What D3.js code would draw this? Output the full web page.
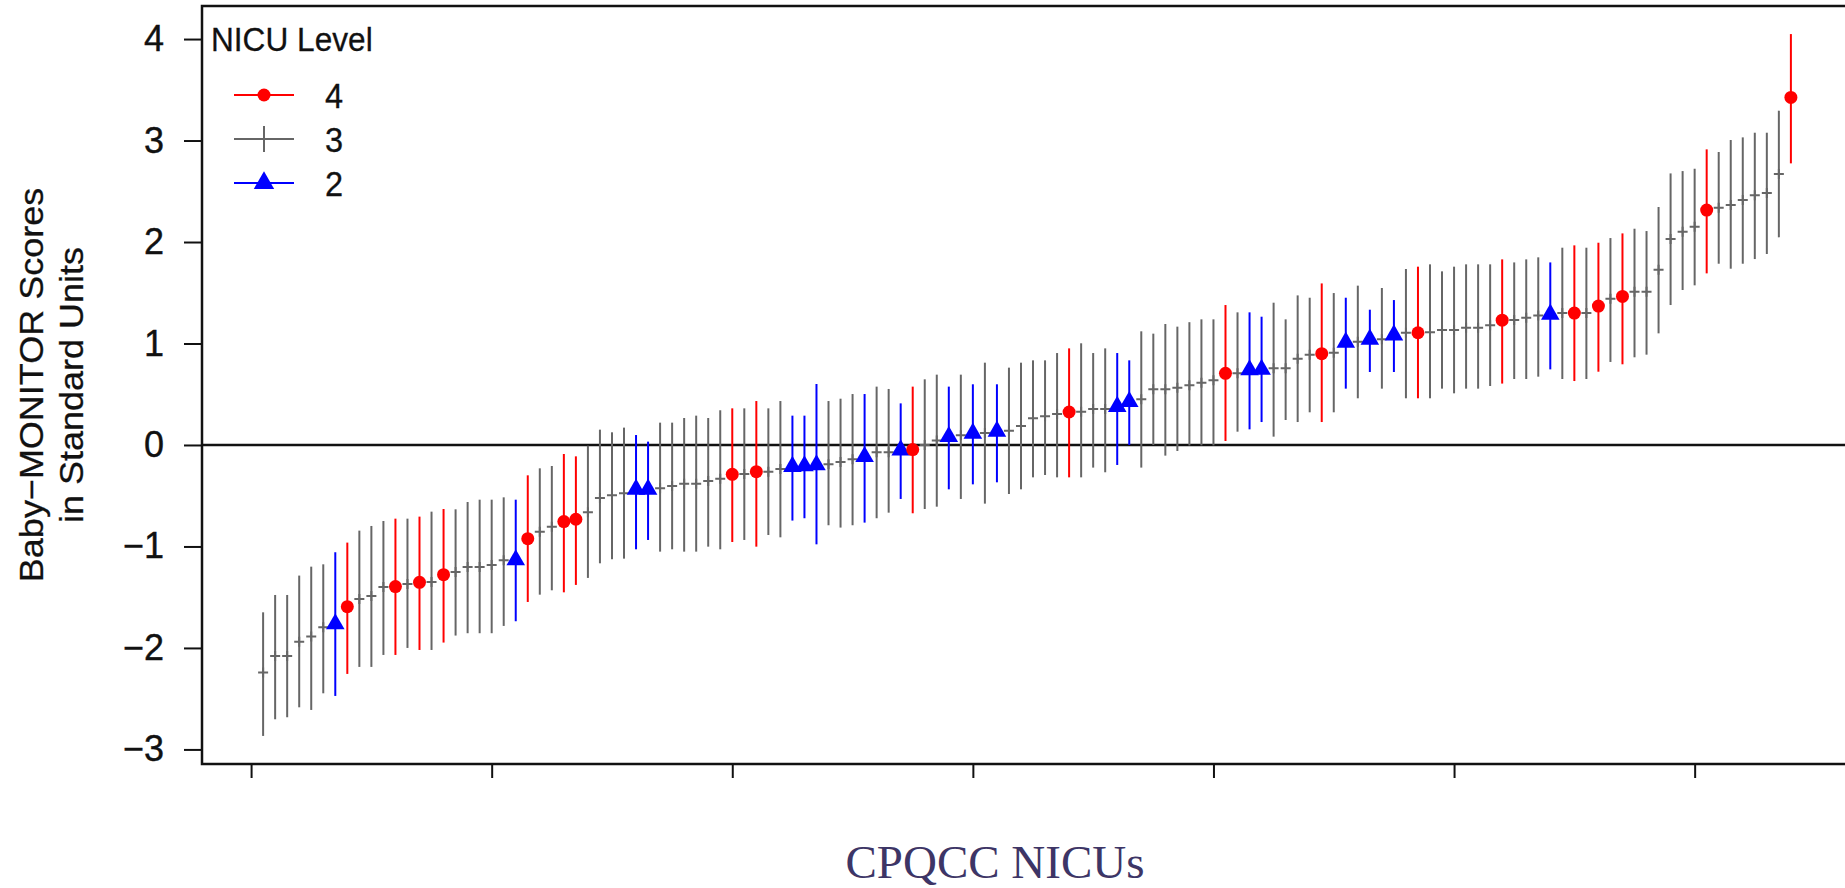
<!DOCTYPE html>
<html>
<head>
<meta charset="utf-8">
<script src="https://cdn.jsdelivr.net/npm/d3@7"></script>
<style>
  body { margin: 0; background: #fff; }
  svg { display: block; }
</style>
</head>
<body>
<div id="renderDiv"></div>
<script>
// NICU level of each hospital (4 = red dot, 3 = gray plus, 2 = blue triangle), ordered by score
const levels = [
  3,3,3,3,3,3,2,4,3,3, 3,4,3,4,3,4,3,3,3,3,
  3,2,4,3,3,4,4,3,3,3, 3,2,2,3,3,3,3,3,3,4,
  3,4,3,3,2,2,2,3,3,3, 2,3,3,2,4,3,3,2,3,2,
  3,2,3,3,3,3,3,4,3,3, 3,2,2,3,3,3,3,3,3,3,
  4,3,2,2,3,3,3,3,4,3, 2,3,2,3,2,3,4,3,3,3,
  3,3,3,4,3,3,3,2,3,4, 3,4,3,4,3,3,3,3,3,3,
  4,3,3,3,3,3,3,4
];
const estimates = [
  -2.243,-2.079,-2.079,-1.938,-1.888,-1.796,-1.764,-1.593,-1.517,-1.488,
  -1.400,-1.395,-1.369,-1.353,-1.350,-1.278,-1.251,-1.202,-1.202,-1.182,
  -1.136,-1.133,-0.923,-0.854,-0.805,-0.755,-0.732,-0.663,-0.522,-0.496,
  -0.476,-0.437,-0.437,-0.427,-0.404,-0.381,-0.381,-0.355,-0.332,-0.289,
  -0.286,-0.263,-0.263,-0.236,-0.213,-0.207,-0.197,-0.190,-0.167,-0.141,
  -0.115,-0.072,-0.072,-0.050,-0.045,0.000,0.043,0.082,0.095,0.115,
  0.118,0.135,0.141,0.187,0.263,0.282,0.305,0.325,0.328,0.355,
  0.355,0.378,0.427,0.450,0.548,0.548,0.565,0.588,0.614,0.637,
  0.706,0.706,0.739,0.745,0.755,0.755,0.850,0.890,0.900,0.910,
  1.012,1.018,1.041,1.041,1.083,1.106,1.106,1.110,1.133,1.133,
  1.156,1.156,1.179,1.230,1.231,1.254,1.277,1.287,1.300,1.300,
  1.300,1.369,1.441,1.464,1.510,1.510,1.727,2.029,2.102,2.151,
  2.315,2.338,2.364,2.414,2.460,2.483,2.670,3.425
];
const upper = [
  -1.649,-1.478,-1.478,-1.287,-1.199,-1.176,-1.057,-0.962,-0.844,-0.798,
  -0.749,-0.726,-0.726,-0.706,-0.657,-0.631,-0.634,-0.562,-0.539,-0.539,
  -0.516,-0.539,-0.299,-0.230,-0.207,-0.089,-0.112,-0.007,0.151,0.125,
  0.171,0.098,0.033,0.220,0.220,0.266,0.289,0.266,0.342,0.361,
  0.361,0.433,0.361,0.433,0.289,0.289,0.601,0.433,0.456,0.502,
  0.502,0.575,0.552,0.410,0.575,0.647,0.693,0.575,0.693,0.598,
  0.811,0.598,0.762,0.811,0.834,0.834,0.906,0.952,1.002,0.906,
  0.952,0.906,0.834,1.120,1.097,1.192,1.166,1.210,1.238,1.238,
  1.379,1.307,1.307,1.264,1.402,1.238,1.474,1.451,1.592,1.497,
  1.451,1.570,1.333,1.547,1.428,1.734,1.757,1.780,1.711,1.757,
  1.780,1.780,1.780,1.829,1.799,1.829,1.849,1.799,1.944,1.967,
  1.944,1.993,2.039,2.085,2.131,2.108,2.345,2.676,2.699,2.722,
  2.913,2.887,3.005,3.031,3.077,3.077,3.294,4.049
];
const lower = [
  -2.867,-2.703,-2.683,-2.585,-2.611,-2.447,-2.473,-2.256,-2.187,-2.187,
  -2.069,-2.069,-2.000,-2.020,-2.020,-1.947,-1.878,-1.855,-1.855,-1.855,
  -1.783,-1.737,-1.547,-1.475,-1.432,-1.452,-1.379,-1.310,-1.166,-1.126,
  -1.120,-1.028,-0.936,-1.051,-1.028,-1.051,-1.051,-1.002,-1.028,-0.956,
  -0.936,-1.002,-0.887,-0.910,-0.745,-0.722,-0.979,-0.791,-0.814,-0.791,
  -0.765,-0.722,-0.667,-0.532,-0.673,-0.631,-0.608,-0.437,-0.532,-0.388,
  -0.578,-0.368,-0.483,-0.437,-0.319,-0.296,-0.319,-0.319,-0.319,-0.223,
  -0.269,-0.197,0.000,-0.223,0.000,-0.105,-0.059,-0.005,-0.004,-0.004,
  0.039,0.131,0.154,0.226,0.082,0.246,0.226,0.322,0.226,0.322,
  0.555,0.460,0.719,0.555,0.719,0.460,0.460,0.460,0.555,0.509,
  0.555,0.555,0.581,0.605,0.650,0.650,0.673,0.745,0.650,0.630,
  0.650,0.722,0.818,0.795,0.864,0.890,1.100,1.379,1.527,1.573,
  1.691,1.786,1.737,1.786,1.832,1.882,2.046,2.775
];
const yTicks = [-3, -2, -1, 0, 1, 2, 3, 4];
const xTicks = [0, 20, 40, 60, 80, 100, 120];
const legendLevels = [4, 3, 2];
const legendTitle = "NICU Level";
const yTitle = ["Baby\u2212MONITOR Scores", "in Standard Units"];
const xTitle = "CPQCC NICUs";

const WIDTH = 1845, HEIGHT = 888;
const plotLeft = 202, plotRight = 1852, plotTop = 6, plotBottom = 764;
const levelColor = { 4: "#ff0000", 3: "#666666", 2: "#0000ff" };
const sans = "'Liberation Sans', Arial, Helvetica, sans-serif";
const squash = 0.93; // the R figure is slightly narrowed in the slide

let data = estimates.map(function (d, i) {
    return { id: i + 1, est: d, lo: lower[i], hi: upper[i], level: levels[i] };
});

// R style 4% padding on both axes
let xExt = d3.extent(data, function (d) { return d.id; });
let xPad = (xExt[1] - xExt[0]) * 0.04;
let yExt = [d3.min(lower), d3.max(upper)];
let yPad = (yExt[1] - yExt[0]) * 0.04;

let xScale = d3.scaleLinear().domain([xExt[0] - xPad, xExt[1] + xPad]).range([plotLeft, plotRight]);
let yScale = d3.scaleLinear().domain([yExt[0] - yPad, yExt[1] + yPad]).range([plotBottom, plotTop]);

let svg = d3.select("#renderDiv").append("svg")
    .attr("width", WIDTH).attr("height", HEIGHT)
    .style("background-color", "#fff");

// box (right side falls outside the picture)
svg.append("rect")
    .attr("x", plotLeft).attr("y", plotTop)
    .attr("width", plotRight - plotLeft).attr("height", plotBottom - plotTop)
    .attr("fill", "none").attr("stroke", "#111").attr("stroke-width", 2.5);

// y axis
let yAxis = d3.axisLeft(yScale).tickValues(yTicks).tickSize(18).tickPadding(20)
    .tickFormat(function (d) { return d < 0 ? "\u2212" + Math.abs(d) : d; });
let gy = svg.append("g").attr("transform", "translate(" + plotLeft + ",0)").call(yAxis);
gy.select(".domain").remove();
gy.selectAll("line").attr("stroke", "#111").attr("stroke-width", 2);
gy.selectAll("text").attr("font-family", sans)
    .attr("font-size", "36px").attr("fill", "#111")
    .attr("stroke", "#111").attr("stroke-width", 0.4);

// x axis, ticks only
let xAxis = d3.axisBottom(xScale).tickValues(xTicks).tickSize(14).tickFormat("");
let gx = svg.append("g").attr("transform", "translate(0," + plotBottom + ")").call(xAxis);
gx.select(".domain").remove();
gx.selectAll("line").attr("stroke", "#111").attr("stroke-width", 2);

// zero reference line
svg.append("line")
    .attr("x1", plotLeft).attr("x2", plotRight)
    .attr("y1", yScale(0)).attr("y2", yScale(0))
    .attr("stroke", "#111").attr("stroke-width", 2.5);

// confidence intervals
svg.append("g").selectAll("line")
    .data(data)
    .enter().append("line")
    .attr("x1", function (d) { return xScale(d.id); })
    .attr("x2", function (d) { return xScale(d.id); })
    .attr("y1", function (d) { return yScale(d.lo); })
    .attr("y2", function (d) { return yScale(d.hi); })
    .attr("stroke", function (d) { return levelColor[d.level]; })
    .attr("stroke-width", 2);

// point estimates
let triangle = d3.symbol().type(d3.symbolTriangle).size(150);
let pts = svg.append("g").selectAll("g")
    .data(data)
    .enter().append("g")
    .attr("transform", function (d) { return "translate(" + xScale(d.id) + "," + yScale(d.est) + ")"; });
pts.each(function (d) {
    let g = d3.select(this);
    if (d.level === 4) {
        g.append("circle").attr("r", 6.5).attr("fill", levelColor[4]);
    } else if (d.level === 2) {
        g.append("path").attr("d", triangle()).attr("fill", levelColor[2]);
    } else {
        g.append("path").attr("d", "M-5,0H5M0,-5V5")
            .attr("stroke", levelColor[3]).attr("stroke-width", 2).attr("fill", "none");
    }
});

// legend
let legend = svg.append("g");
legend.append("text")
    .attr("transform", "translate(211,51) scale(" + squash + ",1)")
    .attr("font-family", sans)
    .attr("font-size", "34px").attr("fill", "#111")
    .attr("stroke", "#111").attr("stroke-width", 0.3)
    .text(legendTitle);
let rowY = d3.scalePoint().domain(legendLevels).range([95, 183]);
legendLevels.forEach(function (lv) {
    let y = rowY(lv);
    legend.append("line").attr("x1", 234).attr("x2", 294).attr("y1", y).attr("y2", y)
        .attr("stroke", levelColor[lv]).attr("stroke-width", 2);
    if (lv === 4) {
        legend.append("circle").attr("cx", 264).attr("cy", y).attr("r", 6.5).attr("fill", levelColor[4]);
    } else if (lv === 2) {
        legend.append("path").attr("transform", "translate(264," + y + ")")
            .attr("d", d3.symbol().type(d3.symbolTriangle).size(180)()).attr("fill", levelColor[2]);
    } else {
        legend.append("line").attr("x1", 264).attr("x2", 264).attr("y1", y - 13).attr("y2", y + 13)
            .attr("stroke", levelColor[3]).attr("stroke-width", 2);
    }
    legend.append("text")
        .attr("transform", "translate(325," + y + ") scale(" + squash + ",1)")
        .attr("dy", "0.36em")
        .attr("font-family", sans)
        .attr("font-size", "35px").attr("fill", "#111")
        .attr("stroke", "#111").attr("stroke-width", 0.3)
        .text(lv);
});

// axis titles
let yMid = (plotTop + plotBottom) / 2;
yTitle.forEach(function (t, i) {
    svg.append("text")
        .attr("transform", "translate(" + (43 + i * 40) + "," + yMid + ") scale(" + squash + ",1) rotate(-90)")
        .attr("text-anchor", "middle")
        .attr("font-family", sans)
        .attr("font-size", "36px").attr("fill", "#111")
        .attr("stroke", "#111").attr("stroke-width", 0.3)
        .text(t);
});

svg.append("text")
    .attr("x", 995).attr("y", 878)
    .attr("text-anchor", "middle")
    .attr("font-family", "'Liberation Serif', 'Times New Roman', serif")
    .attr("font-size", "47px").attr("fill", "#3d3566")
    .text(xTitle);
</script>
</body>
</html>
